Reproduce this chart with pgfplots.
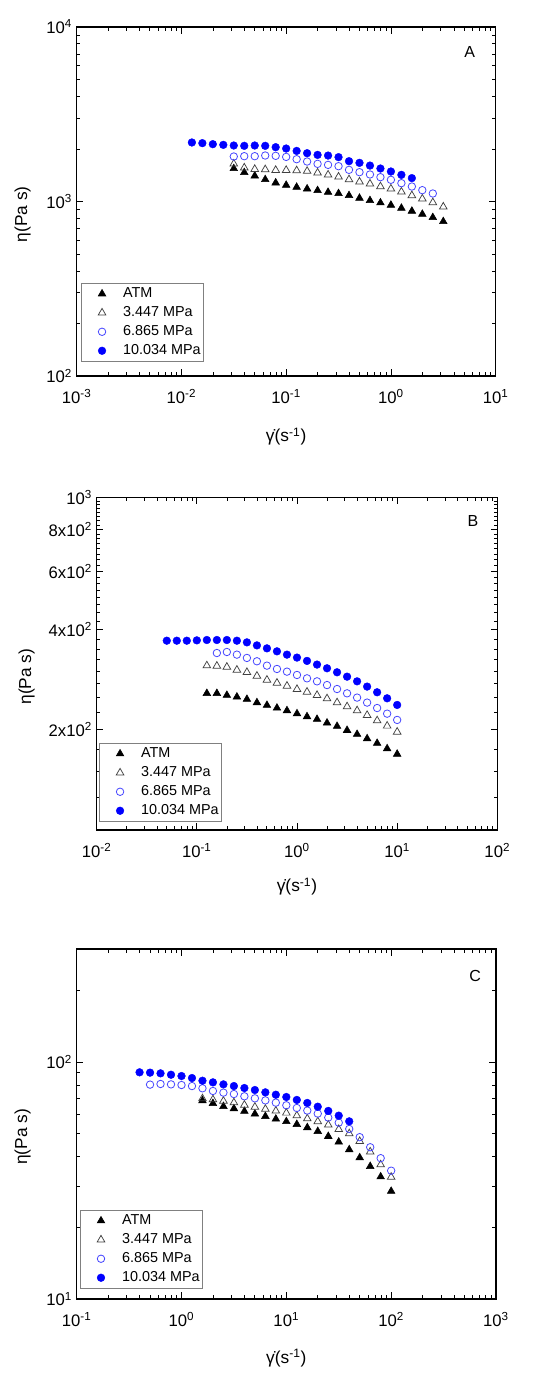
\documentclass[border=0pt]{standalone}
\usepackage{fontspec}
\setmainfont{Liberation Sans}
\usepackage{pgfplots}
\pgfplotsset{compat=1.18}
\definecolor{myblue}{RGB}{0,0,255}
\definecolor{lblue}{RGB}{70,70,255}
\newcommand\gdot{γ^^^^0307}
\tikzset{
  mATM/.style={mark=triangle*, mark size=3.3pt, black, mark options={fill=black, line width=0.4pt}},
  mPA/.style={mark=triangle, mark size=3.3pt, black!75, mark options={line width=0.55pt}},
  mPB/.style={mark=o, mark size=2.8pt, lblue, mark options={line width=0.6pt}},
  mPC/.style={mark=*, mark size=2.9pt, myblue, mark options={fill=myblue, draw=myblue, line width=0.3pt}},
}
\pgfplotsset{
  myaxisstyle/.style={
    scale only axis,
    tick align=inside,
    major tick length=5pt, minor tick length=2.8pt,
    every tick/.append style={black, line width=0.6pt},
    axis line style={line width=0.9pt},
    tick label style={font=\fontsize{12.5}{14}\selectfont},
    xticklabel style={yshift=-6.5pt},
    xlabel={\gdot(s\textsuperscript{-1})},
    ylabel={η(Pa s)},
    label style={font=\fontsize{13}{15}\selectfont},
    legend cell align=left,
    legend style={anchor=south west, draw=black!50, line width=0.6pt, fill=white,
      font=\fontsize{10.8}{12}\selectfont, inner xsep=1pt, inner ysep=1pt, row sep=0pt,
      nodes={inner sep=1pt, text height=9pt, text depth=3.25pt}},
  },
}
\begin{document}
\begin{tikzpicture}
\useasboundingbox[fill=white] (0,0) rectangle (412.5pt,1035pt);
% ---------------- Panel A ----------------
\begin{loglogaxis}[myaxisstyle, at={(57.5pt,753pt)}, anchor=south west,
  width=314.25pt, height=261.75pt,
  legend image code/.code={\path[draw=none,fill=none] (0pt,0pt) rectangle (29.5pt,0pt); \draw[#1, only marks] plot coordinates {(14.75pt,0pt)};},
  xmin=1e-3, xmax=10, ymin=100, ymax=10000,
  xtick={0.001,0.01,0.1,1,10},
  xticklabels={10\textsuperscript{-3},10\textsuperscript{-2},10\textsuperscript{-1},10\textsuperscript{0},10\textsuperscript{1}},
  minor xtick={0.002,0.003,0.004,0.005,0.006,0.007,0.008,0.009,0.02,0.03,0.04,0.05,0.06,0.07,0.08,0.09,0.2,0.3,0.4,0.5,0.6,0.7,0.8,0.9,2,3,4,5,6,7,8,9},
  ytick={100,1000,10000},
  yticklabels={10\textsuperscript{2},10\textsuperscript{3},10\textsuperscript{4}},
  minor ytick={200,300,400,500,600,700,800,900,2000,3000,4000,5000,6000,7000,8000,9000},
  xlabel style={at={(axis description cs:0.5,-0.174)}, anchor=center},
  ylabel style={at={(axis description cs:-0.129,0.463)}, anchor=center},
  legend style={at={(0.0095,0.040)}},
]
\addplot[only marks, mATM] coordinates {(0.03162,1545)(0.03981,1466)(0.05012,1402)(0.0631,1336)(0.07943,1279)(0.1,1240)(0.1259,1208)(0.1585,1182)(0.1995,1156)(0.2512,1130)(0.3162,1111)(0.3981,1082)(0.5012,1045)(0.631,1013)(0.7943,983)(1,953)(1.259,916)(1.585,881)(1.995,846)(2.512,810)(3.162,768)};
\addlegendentry{ATM}
\addplot[only marks, mPA] coordinates {(0.03162,1643)(0.03981,1560)(0.05012,1531)(0.0631,1525)(0.07943,1511)(0.1,1511)(0.1259,1504)(0.1585,1492)(0.1995,1459)(0.2512,1421)(0.3162,1384)(0.3981,1336)(0.5012,1296)(0.631,1262)(0.7943,1218)(1,1182)(1.259,1136)(1.585,1082)(1.995,1036)(2.512,987)(3.162,932)};
\addlegendentry{3.447 MPa}
\addplot[only marks, mPB] coordinates {(0.03162,1810)(0.03981,1818)(0.05012,1818)(0.0631,1834)(0.07943,1826)(0.1,1801)(0.1259,1747)(0.1585,1694)(0.1995,1643)(0.2512,1621)(0.3162,1593)(0.3981,1518)(0.5012,1472)(0.631,1428)(0.7943,1378)(1,1331)(1.259,1273)(1.585,1218)(1.995,1161)(2.512,1111)};
\addlegendentry{6.865 MPa}
\addplot[only marks, mPC] coordinates {(0.01259,2178)(0.01585,2159)(0.01995,2130)(0.02512,2111)(0.03162,2093)(0.03981,2084)(0.05012,2093)(0.0631,2084)(0.07943,2047)(0.1,2011)(0.1259,1949)(0.1585,1891)(0.1995,1849)(0.2512,1833)(0.3162,1795)(0.3981,1702)(0.5012,1665)(0.631,1606)(0.7943,1545)(1,1485)(1.259,1421)(1.585,1361)};
\addlegendentry{10.034 MPa}
\node[font=\fontsize{12}{14}\selectfont] at (rel axis cs:0.938,0.928) {A};
\end{loglogaxis}
% ---------------- Panel B ----------------
\begin{loglogaxis}[myaxisstyle, at={(72.5pt,412.5pt)}, anchor=south west,
  width=300.5pt, height=249.5pt,
  legend image code/.code={\path[draw=none,fill=none] (0pt,0pt) rectangle (29.5pt,0pt); \draw[#1, only marks] plot coordinates {(14.75pt,0pt)};},
  xmin=1e-2, xmax=100, ymin=100, ymax=1000,
  xtick={0.01,0.1,1,10,100},
  xticklabels={10\textsuperscript{-2},10\textsuperscript{-1},10\textsuperscript{0},10\textsuperscript{1},10\textsuperscript{2}},
  minor xtick={0.02,0.03,0.04,0.05,0.06,0.07,0.08,0.09,0.2,0.3,0.4,0.5,0.6,0.7,0.8,0.9,2,3,4,5,6,7,8,9,20,30,40,50,60,70,80,90},
  ytick={200,400,600,800,1000},
  yticklabels={2x10\textsuperscript{2},4x10\textsuperscript{2},6x10\textsuperscript{2},8x10\textsuperscript{2},10\textsuperscript{3}},
  minor ytick={125,150,175,225,250,275,300,325,350,375,425,450,475,500,525,550,575,625,650,675,700,725,750,775,825,850,875,900,925,950,975},
  xlabel style={at={(axis description cs:0.5,-0.170)}, anchor=center},
  ylabel style={at={(axis description cs:-0.175,0.461)}, anchor=center},
  legend style={at={(0.005,0.024)}},
]
\addplot[only marks, mATM] coordinates {(0.1259,257.5)(0.1585,257.5)(0.1995,254.1)(0.2512,251.2)(0.3162,247.2)(0.3981,241.5)(0.5012,237.1)(0.631,232.6)(0.7943,228.5)(1,223.7)(1.259,219.2)(1.585,215.2)(1.995,209.8)(2.512,205.0)(3.162,199.4)(3.981,194.0)(5.012,188.2)(6.31,182.3)(7.943,175.6)(10,169.1)};
\addlegendentry{ATM}
\addplot[only marks, mPA] coordinates {(0.1259,311.9)(0.1585,311.2)(0.1995,309.0)(0.2512,302.7)(0.3162,297.9)(0.3981,290.4)(0.5012,282.5)(0.631,276.7)(0.7943,271.0)(1,264.9)(1.259,260.0)(1.585,254.1)(1.995,248.3)(2.512,241.5)(3.162,234.9)(3.981,228.5)(5.012,221.3)(6.31,213.2)(7.943,205.5)(10,197.1)};
\addlegendentry{3.447 MPa}
\addplot[only marks, mPB] coordinates {(0.1585,340.4)(0.1995,342.8)(0.2512,336.6)(0.3162,329.0)(0.3981,321.5)(0.5012,311.9)(0.631,304.8)(0.7943,299.2)(1,292.4)(1.259,285.7)(1.585,279.8)(1.995,272.7)(2.512,265.3)(3.162,257.5)(3.981,250.0)(5.012,241.5)(6.31,232.6)(7.943,223.7)(10,214.2)};
\addlegendentry{6.865 MPa}
\addplot[only marks, mPC] coordinates {(0.05012,370.7)(0.0631,370.7)(0.07943,370.7)(0.1,371.6)(0.1259,372.5)(0.1585,372.5)(0.1995,372.5)(0.2512,370.7)(0.3162,366.5)(0.3981,358.9)(0.5012,351.6)(0.631,344.4)(0.7943,336.6)(1,329.8)(1.259,322.3)(1.585,314.2)(1.995,306.3)(2.512,297.9)(3.162,289.0)(3.981,279.8)(5.012,269.8)(6.31,259.4)(7.943,248.8)(10,237.6)};
\addlegendentry{10.034 MPa}
\node[font=\fontsize{12}{14}\selectfont] at (rel axis cs:0.939,0.928) {B};
\end{loglogaxis}
% ---------------- Panel C ----------------
\begin{loglogaxis}[myaxisstyle, at={(57.5pt,60.75pt)}, anchor=south west,
  width=314.5pt, height=262.5pt,
  legend image code/.code={\path[draw=none,fill=none] (0pt,0pt) rectangle (29.5pt,0pt); \draw[#1, only marks] plot coordinates {(14.75pt,0pt)};},
  xmin=0.1, xmax=1000, ymin=10, ymax=300,
  xtick={0.1,1,10,100,1000},
  xticklabels={10\textsuperscript{-1},10\textsuperscript{0},10\textsuperscript{1},10\textsuperscript{2},10\textsuperscript{3}},
  minor xtick={0.2,0.3,0.4,0.5,0.6,0.7,0.8,0.9,2,3,4,5,6,7,8,9,20,30,40,50,60,70,80,90,200,300,400,500,600,700,800,900},
  ytick={10,100},
  yticklabels={10\textsuperscript{1},10\textsuperscript{2}},
  minor ytick={20,30,40,50,60,70,80,90,200},
  xlabel style={at={(axis description cs:0.5,-0.169)}, anchor=center},
  ylabel style={at={(axis description cs:-0.129,0.463)}, anchor=center},
  legend style={at={(0.007,0.0286)}},
]
\addplot[only marks, mATM] coordinates {(1.585,68.7)(1.995,66.9)(2.512,65.0)(3.162,63.6)(3.981,62.0)(5.012,60.4)(6.31,59.0)(7.943,57.5)(10,56.1)(12.59,54.6)(15.85,52.9)(19.95,51.0)(25.12,48.6)(31.62,46.0)(39.81,42.7)(50.12,39.5)(63.1,36.3)(79.43,32.8)(100,28.5)};
\addlegendentry{ATM}
\addplot[only marks, mPA] coordinates {(1.585,70.1)(1.995,69.4)(2.512,68.5)(3.162,67.4)(3.981,65.9)(5.012,64.6)(6.31,63.3)(7.943,62.2)(10,61.0)(12.59,59.4)(15.85,57.7)(19.95,56.1)(25.12,54.3)(31.62,52.0)(39.81,49.9)(50.12,46.3)(63.1,41.8)(79.43,36.9)(100,32.7)};
\addlegendentry{3.447 MPa}
\addplot[only marks, mPB] coordinates {(0.5012,80.3)(0.631,80.8)(0.7943,80.5)(1,80.0)(1.259,79.2)(1.585,77.5)(1.995,75.5)(2.512,74.3)(3.162,73.3)(3.981,71.7)(5.012,70.3)(6.31,68.9)(7.943,67.4)(10,65.7)(12.59,64.0)(15.85,62.4)(19.95,60.6)(25.12,58.3)(31.62,55.5)(39.81,52.2)(50.12,48.2)(63.1,43.7)(79.43,39.3)(100,34.8)};
\addlegendentry{6.865 MPa}
\addplot[only marks, mPC] coordinates {(0.3981,90.5)(0.5012,90.2)(0.631,89.6)(0.7943,88.4)(1,87.3)(1.259,85.6)(1.585,83.4)(1.995,82.1)(2.512,80.5)(3.162,79.2)(3.981,77.7)(5.012,76.2)(6.31,74.5)(7.943,72.8)(10,71.2)(12.59,69.2)(15.85,67.2)(19.95,64.8)(25.12,62.2)(31.62,59.4)(39.81,56.2)};
\addlegendentry{10.034 MPa}
\node[font=\fontsize{12}{14}\selectfont] at (rel axis cs:0.95,0.923) {C};
\end{loglogaxis}
\end{tikzpicture}
\end{document}
